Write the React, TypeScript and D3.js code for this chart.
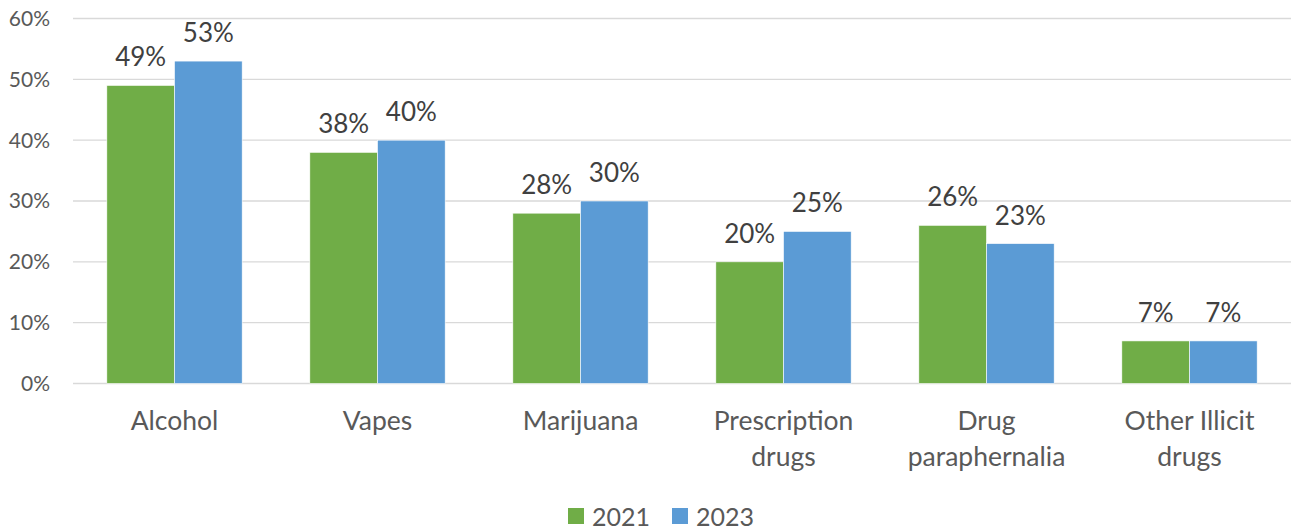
import React from "react";
import * as d3 from "d3";

const categories: string[][] = [
  ["Alcohol"],
  ["Vapes"],
  ["Marijuana"],
  ["Prescription", "drugs"],
  ["Drug", "paraphernalia"],
  ["Other Illicit", "drugs"],
];
const seriesNames = ["2021", "2023"];
const values2021 = [49, 38, 28, 20, 26, 7];
const values2023 = [53, 40, 30, 25, 23, 7];
const yTicks = [0, 10, 20, 30, 40, 50, 60];
const colors = ["#70AD47", "#5B9BD5"];

const W = 1291;
const H = 531;
const FONT = "Lato, 'Open Sans', sans-serif";

export default function App() {
  const keys = categories.map((c) => c.join(" "));
  const x0 = d3.scaleBand<string>().domain(keys).range([73, 1291]).padding(0);
  const x1 = d3
    .scaleBand<string>()
    .domain(seriesNames)
    .range([0, x0.bandwidth()])
    .paddingInner(0)
    .paddingOuter(0.5);
  const y = d3.scaleLinear().domain([0, 60]).range([383.5, 18.5]);
  const series = [values2021, values2023];

  return (
    <svg
      width={W}
      height={H}
      style={{ position: "absolute", left: 0, top: 0, background: "#fff" }}
      fontFamily={FONT}
    >
      {yTicks.map((t) => (
        <g key={t}>
          <line x1={73} x2={1291} y1={y(t)} y2={y(t)} stroke="#D9D9D9" strokeWidth={1.3} />
          <text x={50} y={y(t)} dy="0.35em" textAnchor="end" fontSize={21} fill="#595959">
            {t}%
          </text>
        </g>
      ))}
      {keys.map((k, i) => (
        <g key={k} transform={`translate(${x0(k)},0)`}>
          {seriesNames.map((s, j) => {
            const v = series[j][i];
            const bx = x1(s)!;
            return (
              <g key={s}>
                <rect
                  x={bx}
                  y={y(v)}
                  width={x1.bandwidth()}
                  height={y(0) - y(v)}
                  fill={colors[j]}
                  stroke="#fff"
                  strokeWidth={0.6}
                />
                <text
                  x={bx + x1.bandwidth() / 2}
                  y={y(v) - 19}
                  textAnchor="middle"
                  fontSize={26}
                  fill="#404040"
                >
                  {v}%
                </text>
              </g>
            );
          })}
          {categories[i].map((line, li) => (
            <text
              key={li}
              x={x0.bandwidth() / 2}
              y={430 + li * 36}
              textAnchor="middle"
              fontSize={26.5}
              fill="#595959"
            >
              {line}
            </text>
          ))}
        </g>
      ))}
      {seriesNames.map((s, j) => {
        const lx = [568, 672][j];
        return (
          <g key={s}>
            <rect x={lx} y={508} width={16} height={16} fill={colors[j]} />
            <text x={lx + 24} y={526} fontSize={25} fill="#595959">
              {s}
            </text>
          </g>
        );
      })}
    </svg>
  );
}
